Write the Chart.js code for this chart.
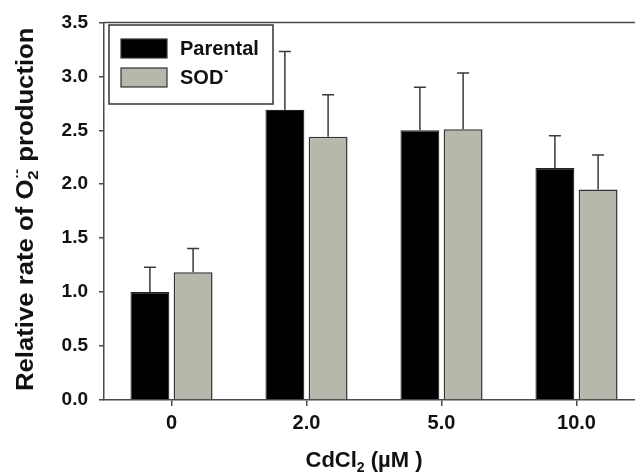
<!DOCTYPE html>
<html>
<head>
<meta charset="utf-8">
<script src="https://cdn.jsdelivr.net/npm/chart.js@4.4.1/dist/chart.umd.min.js"></script>
<style>
  html, body { margin: 0; padding: 0; overflow: hidden; background: #fff; }
  canvas { display: block; }
</style>
</head>
<body>
<canvas id="chart" width="650" height="474"></canvas>
<script>
// data
const categories = ['0', '2.0', '5.0', '10.0'];
const parental = [1.00, 2.69, 2.50, 2.15];
const parentalErr = [0.23, 0.54, 0.40, 0.30];
const sod = [1.185, 2.44, 2.51, 1.95];
const sodErr = [0.22, 0.39, 0.52, 0.32];
const yTicks = [0, 0.5, 1.0, 1.5, 2.0, 2.5, 3.0, 3.5];

const FONT = '"Liberation Sans", Arial, sans-serif';
const AXIS = '#4a4a4a';

// upward error bars with caps
const errorBars = {
    id: 'errorBars',
    afterDatasetsDraw(chart) {
        const ctx = chart.ctx;
        const y = chart.scales.y;
        ctx.save();
        ctx.strokeStyle = '#3a3a3a';
        ctx.lineWidth = 1.5;
        chart.data.datasets.forEach(function(ds, i) {
            chart.getDatasetMeta(i).data.forEach(function(bar, j) {
                const top = y.getPixelForValue(ds.data[j] + ds.errors[j]);
                ctx.beginPath();
                ctx.moveTo(bar.x, bar.y);
                ctx.lineTo(bar.x, top);
                ctx.moveTo(bar.x - 6, top);
                ctx.lineTo(bar.x + 6, top);
                ctx.stroke();
            });
        });
        ctx.restore();
    }
};

// top frame line, legend box and axis titles
const decorations = {
    id: 'decorations',
    afterDraw(chart) {
        const ctx = chart.ctx;
        const area = chart.chartArea;
        ctx.save();

        // top border
        ctx.strokeStyle = AXIS;
        ctx.lineWidth = 1.5;
        ctx.beginPath();
        ctx.moveTo(area.left, area.top);
        ctx.lineTo(area.right, area.top);
        ctx.stroke();

        // legend
        ctx.fillStyle = '#fff';
        ctx.fillRect(109, 25, 164, 79);
        ctx.strokeStyle = '#333';
        ctx.strokeRect(109, 25, 164, 79);
        const ds = chart.data.datasets;
        const rows = [39, 68];
        ds.forEach(function(d, i) {
            ctx.fillStyle = d.backgroundColor;
            ctx.fillRect(121, rows[i], 46, 19);
            ctx.strokeStyle = '#333';
            ctx.lineWidth = 1.2;
            ctx.strokeRect(121, rows[i], 46, 19);
            ctx.fillStyle = '#111';
            ctx.font = 'bold 20px ' + FONT;
            ctx.textBaseline = 'alphabetic';
            ctx.textAlign = 'left';
            const base = rows[i] + 16;
            if (i === 0) {
                ctx.fillText(d.label, 180, base);
            } else {
                ctx.fillText('SOD', 180, base);
                const w = ctx.measureText('SOD').width;
                ctx.font = 'bold 12px ' + FONT;
                ctx.fillText('-', 180 + w + 1, base - 9);
            }
        });

        // x title: CdCl2 (µM )
        ctx.fillStyle = '#111';
        ctx.textBaseline = 'alphabetic';
        ctx.textAlign = 'left';
        const big = 'bold 22px ' + FONT;
        const small = 'bold 14px ' + FONT;
        ctx.font = big;
        const w1 = ctx.measureText('CdCl').width;
        const w3 = ctx.measureText(' (\u00b5M )').width;
        ctx.font = small;
        const w2 = ctx.measureText('2').width;
        let x = 364 - (w1 + w2 + w3) / 2;
        const by = 467;
        ctx.font = big;
        ctx.fillText('CdCl', x, by);
        x += w1;
        ctx.font = small;
        ctx.fillText('2', x, by + 5);
        x += w2;
        ctx.font = big;
        ctx.fillText(' (\u00b5M )', x, by);

        // y title: Relative rate of O2·- production
        const parts = [
            { t: 'Relative rate of O', f: 'bold 23px ' + FONT, dy: 0 },
            { t: '2', f: 'bold 15px ' + FONT, dy: 5 },
            { t: '\u00b7-', f: 'bold 13px ' + FONT, dy: -12, back: true },
            { t: ' production', f: 'bold 23px ' + FONT, dy: 0 }
        ];
        let total = 0;
        const widths = parts.map(function(p) {
            ctx.font = p.f;
            const w = ctx.measureText(p.t).width;
            if (!p.back) total += w;
            return w;
        });
        const target = 362;
        ctx.translate(33, 210);
        ctx.rotate(-Math.PI / 2);
        ctx.scale(target / total, 1);
        let px = -total / 2;
        let prevW = 0;
        parts.forEach(function(p, i) {
            ctx.font = p.f;
            if (p.back) {
                ctx.fillText(p.t, px - prevW + 1, p.dy);
                px = px - prevW + Math.max(prevW, widths[i]) + 1;
            } else {
                ctx.fillText(p.t, px, p.dy);
                px += widths[i];
                prevW = widths[i];
            }
        });

        ctx.restore();
    }
};

new Chart(document.getElementById('chart'), {
    type: 'bar',
    data: {
        labels: categories,
        datasets: [
            {
                label: 'Parental',
                data: parental,
                errors: parentalErr,
                backgroundColor: '#000000',
                borderColor: '#222',
                borderWidth: 1.2
            },
            {
                label: 'SOD-',
                data: sod,
                errors: sodErr,
                backgroundColor: '#b7b7ab',
                borderColor: '#333',
                borderWidth: 1.5
            }
        ]
    },
    options: {
        responsive: false,
        animation: false,
        events: [],
        layout: { padding: { left: 0, right: 6, top: 21, bottom: 0 } },
        datasets: {
            bar: { barPercentage: 0.9, categoryPercentage: 0.64, borderSkipped: 'bottom' }
        },
        plugins: {
            legend: { display: false },
            title: { display: false },
            tooltip: { enabled: false }
        },
        scales: {
            x: {
                offset: true,
                grid: { offset: false, drawOnChartArea: false, drawTicks: true, tickLength: 6, tickColor: AXIS, lineWidth: 1.5 },
                border: { color: AXIS, width: 1.5 },
                ticks: { color: '#111', font: { family: FONT, size: 20, weight: 'bold' }, padding: 5 },
                afterFit: function(scale) { scale.height = 74; }
            },
            y: {
                min: 0,
                max: 3.5,
                afterBuildTicks: function(scale) {
                    scale.ticks = yTicks.map(function(v) { return { value: v }; });
                },
                grid: { drawOnChartArea: false, drawTicks: true, tickLength: 5, tickColor: AXIS, lineWidth: 1.5 },
                border: { color: AXIS, width: 1.5 },
                ticks: {
                    color: '#111',
                    font: { family: FONT, size: 19, weight: 'bold' },
                    padding: 11,
                    callback: function(v) { return Number(v).toFixed(1); }
                },
                afterFit: function(scale) { scale.width = 104; }
            }
        }
    },
    plugins: [errorBars, decorations]
});
</script>
</body>
</html>
